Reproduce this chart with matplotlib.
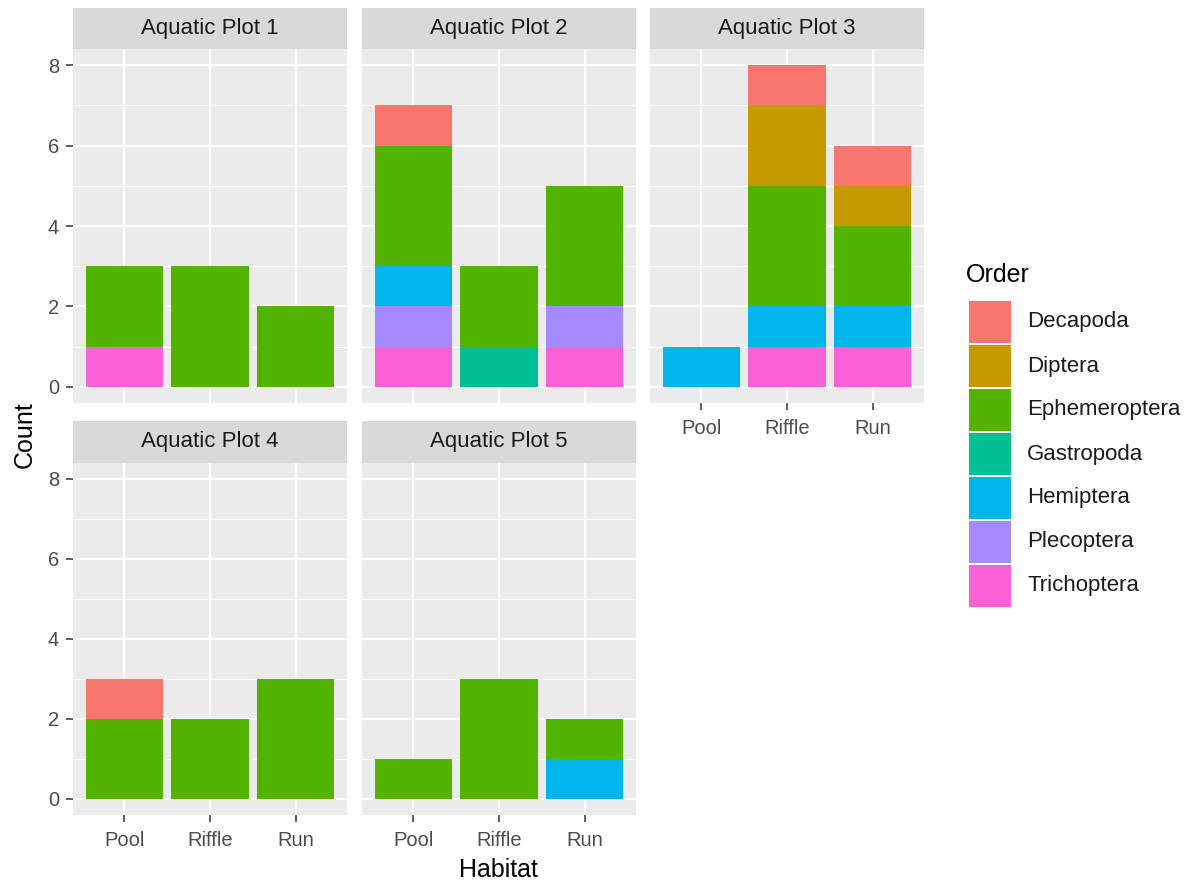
import matplotlib
matplotlib.use("Agg")
import matplotlib.pyplot as plt
from matplotlib.patches import Rectangle
import numpy as np

plt.rcParams['font.family'] = ['Liberation Sans', 'DejaVu Sans']

habitats = ["Pool", "Riffle", "Run"]
orders = ["Decapoda", "Diptera", "Ephemeroptera", "Gastropoda", "Hemiptera", "Plecoptera", "Trichoptera"]
colors = ["#F8766D", "#C49A00", "#53B400", "#00C094", "#00B6EB", "#A58AFF", "#FB61D7"]
panels = ["Aquatic Plot 1", "Aquatic Plot 2", "Aquatic Plot 3", "Aquatic Plot 4", "Aquatic Plot 5"]

# counts per panel: dict order -> [Pool, Riffle, Run]
plot1 = {"Ephemeroptera": [2, 3, 2], "Trichoptera": [1, 0, 0]}
plot2 = {"Decapoda": [1, 0, 0], "Ephemeroptera": [3, 2, 3], "Gastropoda": [0, 1, 0],
         "Hemiptera": [1, 0, 0], "Plecoptera": [1, 0, 1], "Trichoptera": [1, 0, 1]}
plot3 = {"Decapoda": [0, 1, 1], "Diptera": [0, 2, 1], "Ephemeroptera": [0, 3, 2],
         "Hemiptera": [1, 1, 1], "Trichoptera": [0, 1, 1]}
plot4 = {"Decapoda": [1, 0, 0], "Ephemeroptera": [2, 2, 3]}
plot5 = {"Ephemeroptera": [1, 3, 1], "Hemiptera": [0, 0, 1]}
data = [plot1, plot2, plot3, plot4, plot5]

W, H = 1190, 886
fig = plt.figure(figsize=(W / 100, H / 100), dpi=100)

col_left = [73, 362, 650]
pw = 274
rows = [(49, 403, 8), (463, 815, 421)]  # plot top, plot bottom, strip top

tick_color = "#4D4D4D"
for i, (name, d) in enumerate(zip(panels, data)):
    r, c = divmod(i, 3)
    top, bot, stop = rows[r]
    x0 = col_left[c]
    ax = fig.add_axes([x0 / W, 1 - bot / H, pw / W, (bot - top) / H])
    ax.set_facecolor("#EBEBEB")
    for s in ax.spines.values():
        s.set_visible(False)
    ax.set_xlim(0.4, 3.6)
    ax.set_ylim(-0.4, 8.4)
    ax.set_yticks([0, 2, 4, 6, 8])
    ax.set_yticks([1, 3, 5, 7], minor=True)
    ax.set_xticks([1, 2, 3])
    ax.grid(True, which="major", color="white", linewidth=1.6)
    ax.grid(True, which="minor", axis="y", color="white", linewidth=0.8)
    ax.set_axisbelow(True)
    ax.tick_params(which="minor", length=0)
    ax.tick_params(which="major", length=5, width=1.1, color="#333333",
                   labelsize=14.5, labelcolor=tick_color)
    ax.tick_params(axis="y", pad=5)
    ax.tick_params(axis="x", pad=6.5)
    xs = np.arange(1, 4)
    bottom = np.zeros(3)
    for o, col in zip(orders[::-1], colors[::-1]):
        if o in d:
            v = np.array(d[o], dtype=float)
            ax.bar(xs, v, width=0.9, bottom=bottom, color=col, linewidth=0)
            bottom += v
    if c == 0:
        ax.set_yticklabels(["0", "2", "4", "6", "8"])
    else:
        ax.tick_params(axis="y", labelleft=False, length=0)
    if r == 1 or c == 2:
        ax.set_xticklabels(habitats)
    else:
        ax.tick_params(axis="x", labelbottom=False, length=0)
    # strip
    sax = fig.add_axes([x0 / W, 1 - top / H, pw / W, (top - stop) / H])
    sax.set_facecolor("#D9D9D9")
    sax.set_xticks([]); sax.set_yticks([])
    for s in sax.spines.values():
        s.set_visible(False)
    sax.text(0.5, 0.5, name, ha="center", va="center", fontsize=16, color="#1A1A1A",
             transform=sax.transAxes)

fig.text(25 / W, 1 - 435 / H, "Count", rotation=90, ha="center", va="center", fontsize=18)
fig.text(498 / W, 1 - 870 / H, "Habitat", ha="center", va="center", fontsize=18)

# legend
fig.text(966 / W, 1 - 275 / H, "Order", ha="left", va="center", fontsize=18)
ktop = 300
kh = 44
for j, (o, col) in enumerate(zip(orders, colors)):
    y = ktop + j * kh
    fig.patches.append(Rectangle(((969) / W, 1 - (y + kh - 1) / H), 42 / W, (kh - 2) / H,
                                 transform=fig.transFigure, facecolor=col, edgecolor="none"))
    fig.text(1027 / W, 1 - (y + kh / 2) / H, o, ha="left", va="center", fontsize=16, color="#1A1A1A")

fig.savefig("out.png", dpi=100)
